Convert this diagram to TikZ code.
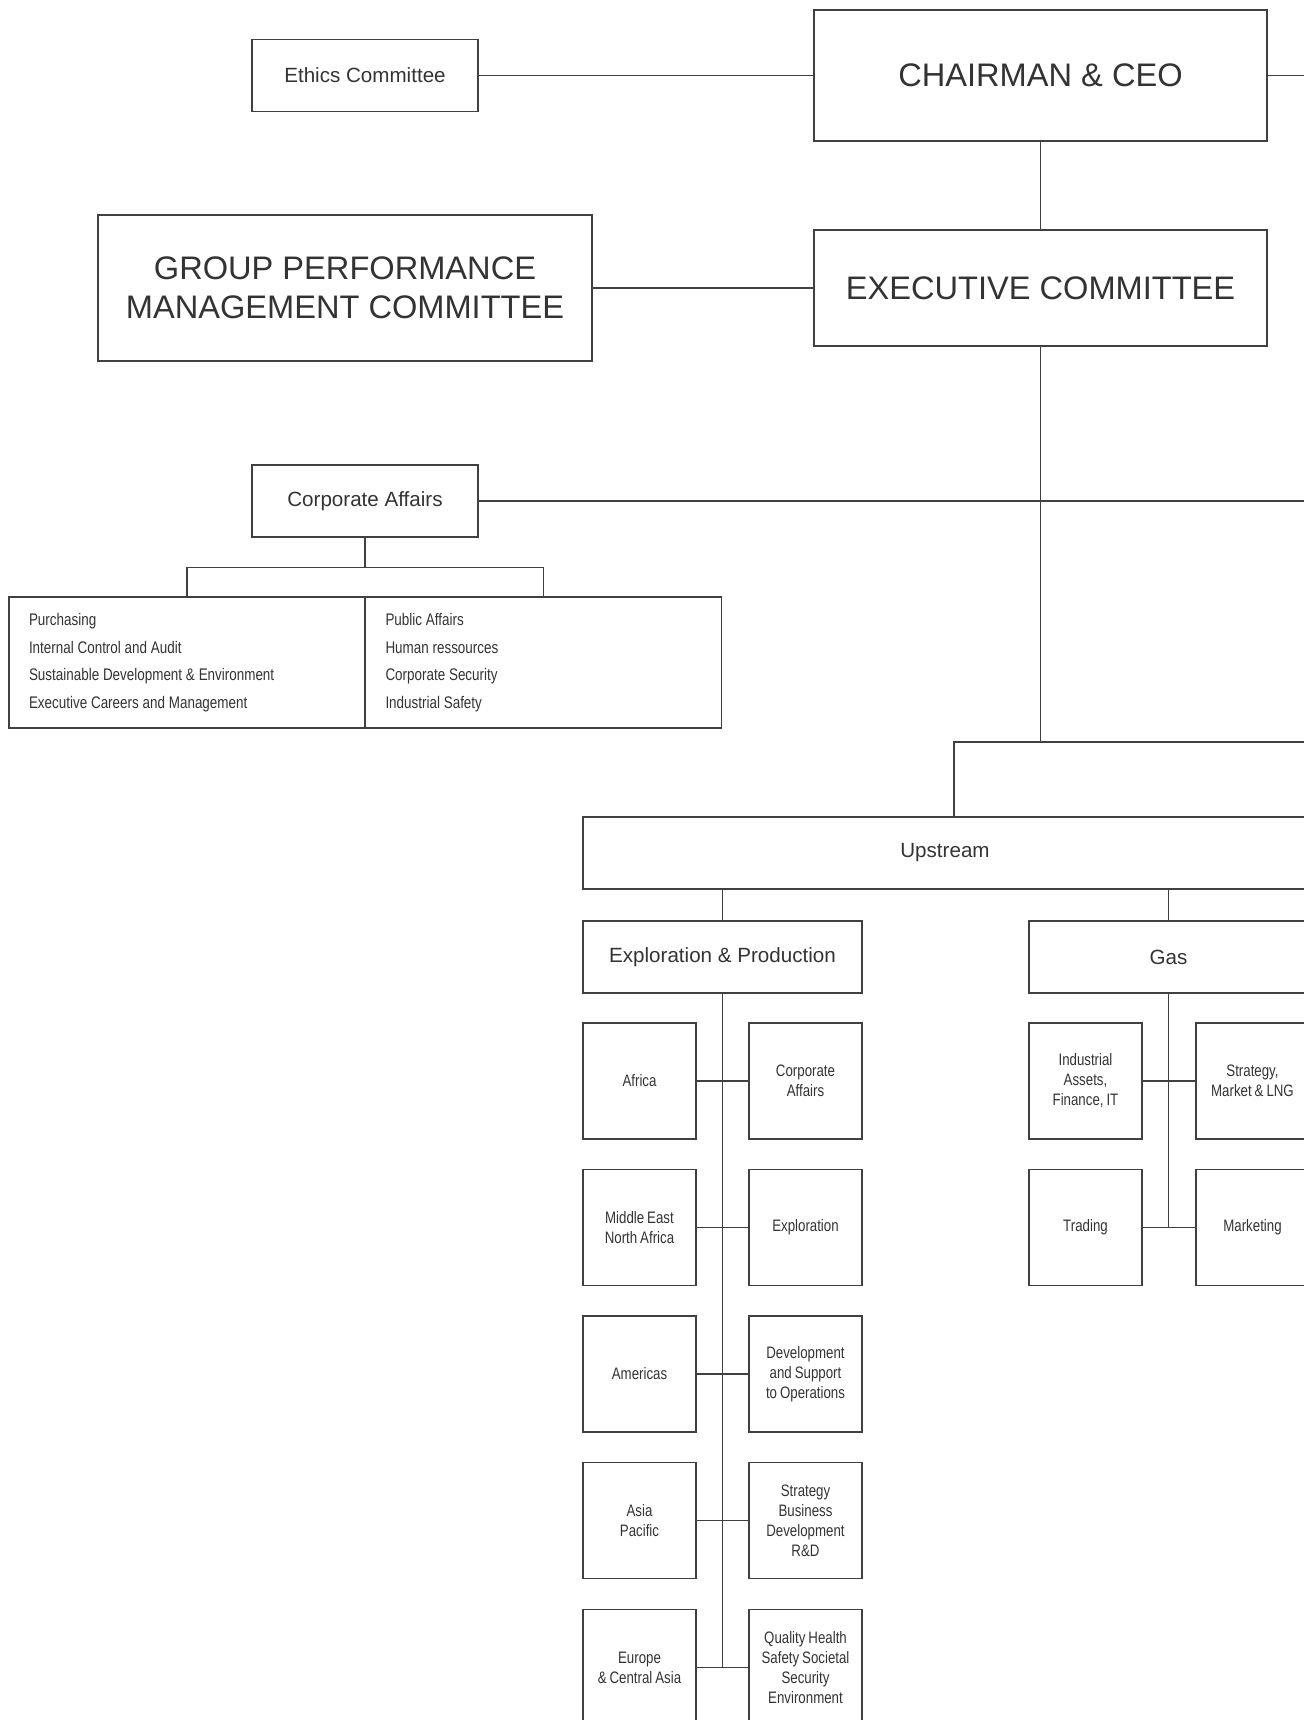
\documentclass[tikz,border=0pt]{standalone}
\usepackage{fontspec}
\setmainfont{Liberation Sans}
\newfontfamily\narrowfont[FakeStretch=0.8,WordSpace=0.8]{Liberation Sans}
\usetikzlibrary{positioning}

\tikzset{
  box/.style={draw, rectangle, inner sep=0pt, align=center},
  bigbox/.style={box, font=\fontsize{16.3pt}{19.7pt}\selectfont},
  midbox/.style={box, minimum width=113pt, minimum height=36pt, font=\fontsize{10.3pt}{12pt}\selectfont},
  unit/.style={box, minimum width=56.5pt, minimum height=58pt, font=\narrowfont\fontsize{8.3pt}{10pt}\selectfont},
  listbox/.style={draw, rectangle, text width=158pt, inner xsep=10pt, inner ysep=0pt, minimum height=65.5pt, align=left,
    font=\narrowfont\fontsize{8.4pt}{13.8pt}\selectfont, execute at begin node={\spaceskip=1.9pt\relax}}
}

\begin{document}
\begin{tikzpicture}[x=0.5pt,y=-0.5pt,line width=0.6pt,color=black!75,text=black!80]
  \useasboundingbox (0,0) rectangle (1304,1720);
  \clip (0,0) rectangle (1304,1720);

  % top of the chart
  \node [bigbox, minimum width=226.5pt, minimum height=65.5pt] (ceo) at (1040.5,75.5) {CHAIRMAN \& CEO};
  \node [midbox] (ethics) at (365,75.5) {Ethics Committee};
  \node [bigbox, minimum width=226.5pt, minimum height=58pt] (exec) at (1040.5,288) {EXECUTIVE COMMITTEE};
  \node [bigbox, minimum width=247pt, minimum height=73pt] (gpmc) at (345,288) {GROUP PERFORMANCE\\MANAGEMENT COMMITTEE};
  \coordinate (ceoend) at (1310,75.5);

  \draw (ethics) -- (ceo);
  \draw (ceo) -- (ceoend);
  \draw (ceo) -- (exec);
  \draw (gpmc) -- (exec);

  % corporate affairs
  \node [midbox] (corp) at (365,501) {Corporate Affairs};
  \node [listbox] (corpl) at (187,662.5) {Purchasing\\Internal Control and Audit\\Sustainable Development \& Environment\\Executive Careers and Management};
  \node [listbox] (corpr) at (543.5,662.5) {Public Affairs\\Human ressources\\Corporate Security\\Industrial Safety};
  \coordinate (corpend) at (1310,501);

  \draw (corp) -- (corpend);
  \draw (corp.south) -- ++(0,30) coordinate (corpbar);
  \draw (corpl.north) |- (corpbar) -| (corpr.north);

  % branches
  \coordinate (split) at (1040.5,742);
  \coordinate (splitend) at (1310,742);
  \coordinate (upin) at (954,817);
  \draw (exec) -- (split);
  \draw (upin) |- (splitend);

  \node [midbox, minimum width=362pt] (up) at (945,853) {Upstream};
  \node [midbox, minimum width=139.5pt] (ep) at (722.5,957) {Exploration \& Production};
  \node [midbox, minimum width=139.5pt] (gas) at (1168.5,957) {Gas};

  \draw (ep) -- (ep |- up.south);
  \draw (gas) -- (gas |- up.south);

  % exploration & production
  \node [unit] (africa) at (639.5,1081) {Africa};
  \node [unit] (epcorp) at (805.5,1081) {Corporate\\Affairs};
  \node [unit] (mena) at (639.5,1227.5) {Middle East\\North Africa};
  \node [unit] (explo) at (805.5,1227.5) {Exploration};
  \node [unit] (americas) at (639.5,1374) {Americas};
  \node [unit] (devsup) at (805.5,1374) {Development\\and Support\\to Operations};
  \node [unit] (asia) at (639.5,1520.5) {Asia\\Pacific};
  \node [unit] (strat) at (805.5,1520.5) {Strategy\\Business\\Development\\R\&D};
  \node [unit] (europe) at (639.5,1667.5) {Europe\\\& Central Asia};
  \node [unit] (qhse) at (805.5,1667.5) {Quality Health\\Safety Societal\\Security\\Environment};

  \draw (ep) -- (ep |- europe);
  \draw (africa) -- (epcorp);
  \draw (mena) -- (explo);
  \draw (americas) -- (devsup);
  \draw (asia) -- (strat);
  \draw (europe) -- (qhse);

  % gas
  \node [unit] (assets) at (1085.5,1081) {Industrial\\Assets,\\Finance, IT};
  \node [unit] (lng) at (1252.5,1081) {Strategy,\\Market \& LNG};
  \node [unit] (trading) at (1085.5,1227.5) {Trading};
  \node [unit] (marketing) at (1252.5,1227.5) {Marketing};

  \draw (gas) -- (gas |- trading);
  \draw (assets) -- (lng);
  \draw (trading) -- (marketing);
\end{tikzpicture}
\end{document}
